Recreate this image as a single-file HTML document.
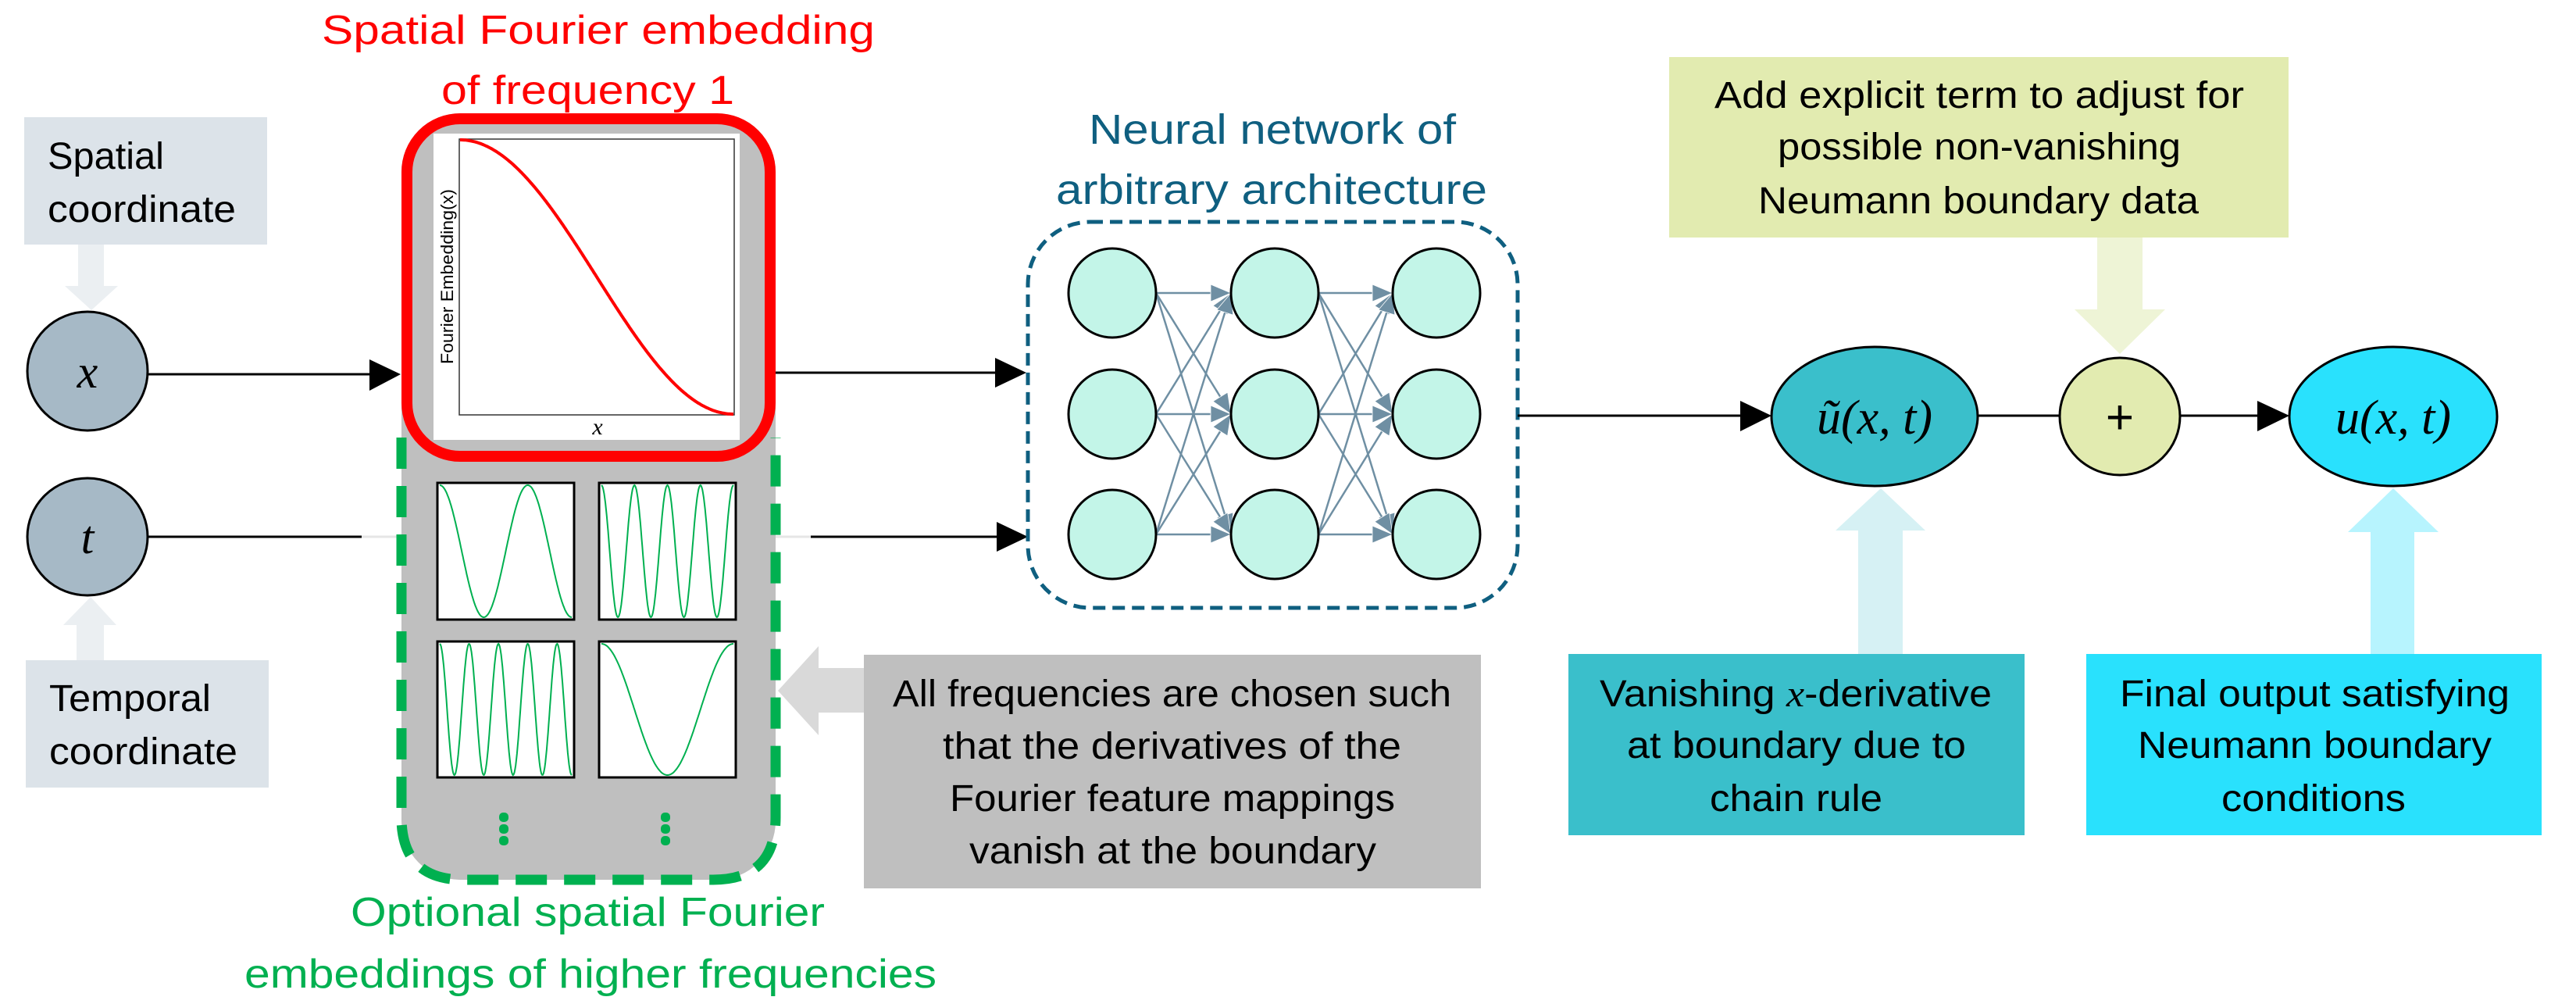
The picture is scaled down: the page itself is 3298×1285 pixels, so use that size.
<!DOCTYPE html>
<html><head><meta charset="utf-8"><style>
html,body{margin:0;padding:0;background:#fff;}
svg{display:block;}
text{font-family:"Liberation Sans",sans-serif;}
.m{font-family:"Liberation Serif",serif;font-style:italic;}
</style></head><body>
<svg id="s" width="3298" height="1285" viewBox="0 0 3298 1285" xmlns="http://www.w3.org/2000/svg">

<!-- Titles -->
<text x="412" y="56" font-size="52" fill="#ff0000" textLength="708" lengthAdjust="spacingAndGlyphs">Spatial Fourier embedding</text>
<text x="565" y="133" font-size="52" fill="#ff0000" textLength="375" lengthAdjust="spacingAndGlyphs">of frequency 1</text>

<!-- Spatial coordinate box -->
<rect x="31" y="150" width="311" height="163" fill="#dce3e9"/>
<text x="61" y="216" font-size="48" fill="#000" textLength="149" lengthAdjust="spacingAndGlyphs">Spatial</text>
<text x="61" y="284" font-size="48" fill="#000" textLength="241" lengthAdjust="spacingAndGlyphs">coordinate</text>
<polygon points="100,313 133,313 133,366 151,366 117,397 83,366 100,366" fill="#ebeff2"/>

<!-- x circle -->
<ellipse cx="112" cy="475" rx="77" ry="76" fill="#a6b9c6" stroke="#000" stroke-width="3"/>
<text x="112" y="496" font-size="60" class="m" text-anchor="middle">x</text>
<line x1="189" y1="479" x2="475" y2="479" stroke="#000" stroke-width="3"/>
<polygon points="473,460 513,479 473,500" fill="#000"/>

<!-- t circle -->
<ellipse cx="112" cy="687" rx="77" ry="75" fill="#a6b9c6" stroke="#000" stroke-width="3"/>
<text x="112" y="708" font-size="60" class="m" text-anchor="middle">t</text>
<line x1="189" y1="687" x2="463" y2="687" stroke="#000" stroke-width="3"/>
<line x1="463" y1="687" x2="514" y2="687" stroke="#e6e6e6" stroke-width="3"/>
<polygon points="98,845 133,845 133,800 149,800 116,764 81,800 98,800" fill="#ebeff2"/>
<rect x="33" y="845" width="311" height="163" fill="#dce3e9"/>
<text x="63" y="910" font-size="48" fill="#000" textLength="207" lengthAdjust="spacingAndGlyphs">Temporal</text>
<text x="63" y="978" font-size="48" fill="#000" textLength="241" lengthAdjust="spacingAndGlyphs">coordinate</text>

<!-- Gray embedding container -->
<rect x="514" y="145" width="479" height="981" rx="75" ry="75" fill="#bfbfbf"/>
<path d="M514,560 L514,1046 Q514,1126 594,1126 L913,1126 Q993,1126 993,1046 L993,560" fill="none" stroke="#00b050" stroke-width="13" stroke-dasharray="40,22"/>
<rect x="521" y="152" width="465" height="432" rx="68" ry="68" fill="none" stroke="#ff0000" stroke-width="14"/>
<rect x="555" y="171" width="392" height="392" fill="#fff"/>
<rect x="588" y="178" width="352" height="353" fill="none" stroke="#333" stroke-width="1.5"/>
<polyline id="mainc" fill="none" stroke="#ff0000" stroke-width="4"/>
<text x="0" y="0" font-size="22" fill="#000" transform="translate(580,354) rotate(-90)" text-anchor="middle" textLength="224" lengthAdjust="spacingAndGlyphs">Fourier Embedding(x)</text>
<text x="765" y="556" font-size="30" class="m" text-anchor="middle">x</text>

<!-- small plots -->
<rect x="560" y="618" width="175" height="175" fill="#fff" stroke="#000" stroke-width="3"/>
<rect x="767" y="618" width="175" height="175" fill="#fff" stroke="#000" stroke-width="3"/>
<rect x="560" y="821" width="175" height="174" fill="#fff" stroke="#000" stroke-width="3"/>
<rect x="767" y="821" width="175" height="174" fill="#fff" stroke="#000" stroke-width="3"/>
<polyline id="p1" fill="none" stroke="#00b050" stroke-width="2"/>
<polyline id="p2" fill="none" stroke="#00b050" stroke-width="2"/>
<polyline id="p3" fill="none" stroke="#00b050" stroke-width="2"/>
<polyline id="p4" fill="none" stroke="#00b050" stroke-width="2"/>
<g fill="#00b050">
<rect x="639" y="1040" width="12" height="12" rx="5"/><rect x="639" y="1055" width="12" height="12" rx="5"/><rect x="639" y="1070" width="12" height="12" rx="5"/>
<rect x="846" y="1040" width="12" height="12" rx="5"/><rect x="846" y="1055" width="12" height="12" rx="5"/><rect x="846" y="1070" width="12" height="12" rx="5"/>
</g>
<text x="449" y="1185" font-size="52" fill="#00b050" textLength="607" lengthAdjust="spacingAndGlyphs">Optional spatial Fourier</text>
<text x="313" y="1264" font-size="52" fill="#00b050" textLength="886" lengthAdjust="spacingAndGlyphs">embeddings of higher frequencies</text>

<!-- gray arrow & text box -->
<polygon points="1106,855 1048,855 1048,827 996,884 1048,941 1048,912 1106,912" fill="#d9d9d9"/>
<rect x="1106" y="838" width="790" height="299" fill="#bfbfbf"/>
<g font-size="48" fill="#000">
<text x="1143" y="904" textLength="715" lengthAdjust="spacingAndGlyphs">All frequencies are chosen such</text>
<text x="1207" y="971" textLength="587" lengthAdjust="spacingAndGlyphs">that the derivatives of the</text>
<text x="1216" y="1038" textLength="570" lengthAdjust="spacingAndGlyphs">Fourier feature mappings</text>
<text x="1241" y="1105" textLength="521" lengthAdjust="spacingAndGlyphs">vanish at the boundary</text>
</g>

<!-- arrows into NN -->
<line x1="993" y1="477" x2="1276" y2="477" stroke="#000" stroke-width="3"/>
<polygon points="1274,458 1314,477 1274,496" fill="#000"/>
<line x1="993" y1="687" x2="1038" y2="687" stroke="#e6e6e6" stroke-width="3"/>
<line x1="1038" y1="687" x2="1278" y2="687" stroke="#000" stroke-width="3"/>
<polygon points="1276,668 1316,687 1276,706" fill="#000"/>

<!-- NN -->
<text x="1394" y="184" font-size="54" fill="#0f5f80" textLength="470" lengthAdjust="spacingAndGlyphs">Neural network of</text>
<text x="1352" y="261" font-size="54" fill="#0f5f80" textLength="552" lengthAdjust="spacingAndGlyphs">arbitrary architecture</text>
<rect x="1316" y="284" width="627" height="494" rx="80" ry="80" fill="none" stroke="#0f5f80" stroke-width="5" stroke-dasharray="16,9"/>
<g id="edges"></g>
<g id="nodes"></g>

<!-- output of NN -->
<line x1="1943" y1="532" x2="2230" y2="532" stroke="#000" stroke-width="3"/>
<polygon points="2228,513 2268,532 2228,552" fill="#000"/>

<!-- green top box -->
<rect x="2137" y="73" width="793" height="231" fill="#e2ebb0"/>
<g font-size="48" fill="#000">
<text x="2195" y="138" textLength="678" lengthAdjust="spacingAndGlyphs">Add explicit term to adjust for</text>
<text x="2276" y="204" textLength="516" lengthAdjust="spacingAndGlyphs">possible non-vanishing</text>
<text x="2251" y="273" textLength="564" lengthAdjust="spacingAndGlyphs">Neumann boundary data</text>
</g>
<polygon points="2685,304 2743,304 2743,396 2772,396 2714,453 2656,396 2685,396" fill="#eef4d6"/>

<!-- output nodes -->
<ellipse cx="2400" cy="533" rx="132" ry="89" fill="#3abfcb" stroke="#000" stroke-width="3"/>
<text x="2400" y="555" font-size="62" class="m" text-anchor="middle">ũ(x, t)</text>
<line x1="2532" y1="532" x2="2637" y2="532" stroke="#000" stroke-width="3"/>
<ellipse cx="2714" cy="533" rx="77" ry="75" fill="#e2ebb0" stroke="#000" stroke-width="3"/>
<text x="2714" y="555" font-size="62" font-family="Liberation Serif,serif" text-anchor="middle">+</text>
<line x1="2791" y1="532" x2="2892" y2="532" stroke="#000" stroke-width="3"/>
<polygon points="2890,513 2931,532 2890,552" fill="#000"/>
<ellipse cx="3064" cy="533" rx="133" ry="89" fill="#29e1fd" stroke="#000" stroke-width="3"/>
<text x="3064" y="555" font-size="62" class="m" text-anchor="middle">u(x, t)</text>

<!-- bottom arrows & boxes -->
<polygon points="2379,837 2436,837 2436,679 2465,679 2408,625 2350,679 2379,679" fill="#d6f1f4"/>
<polygon points="3035,837 3091,837 3091,681 3122,681 3064,625 3006,681 3035,681" fill="#b7f4fe"/>
<rect x="2008" y="837" width="584" height="232" fill="#3abfcb"/>
<g font-size="48" fill="#000">
<text x="2048" y="904" textLength="502" lengthAdjust="spacingAndGlyphs">Vanishing <tspan class="m">x</tspan>-derivative</text>
<text x="2083" y="970" textLength="434" lengthAdjust="spacingAndGlyphs">at boundary due to</text>
<text x="2189" y="1038" textLength="221" lengthAdjust="spacingAndGlyphs">chain rule</text>
</g>
<rect x="2671" y="837" width="583" height="232" fill="#29e1fd"/>
<g font-size="48" fill="#000">
<text x="2714" y="904" textLength="499" lengthAdjust="spacingAndGlyphs">Final output satisfying</text>
<text x="2737" y="970" textLength="453" lengthAdjust="spacingAndGlyphs">Neumann boundary</text>
<text x="2844" y="1038" textLength="236" lengthAdjust="spacingAndGlyphs">conditions</text>
</g>
</svg>
<script>
function curve(id,x0,y0,w,h,f){var p=[];for(var i=0;i<=200;i++){var t=i/200;var v=(1+Math.cos(f*Math.PI*t))/2;p.push((x0+t*w).toFixed(1)+","+(y0+(1-v)*h).toFixed(1));}document.getElementById(id).setAttribute("points",p.join(" "));}
curve("mainc",589,179,350,351,1);
curve("p1",563,621,169,169,3);
curve("p2",770,621,169,169,8);
curve("p3",563,824,169,168,9);
curve("p4",770,824,169,168,2);
var NS="http://www.w3.org/2000/svg";
var cx=[1424,1632,1839],cy=[375,530,684],rx=56,ry=57;
var E=document.getElementById("edges"),N=document.getElementById("nodes");
for(var c=0;c<2;c++)for(var a=0;a<3;a++)for(var b=0;b<3;b++){
 var x1=cx[c]+rx,y1=cy[a],x2=cx[c+1]-rx,y2=cy[b];
 var dx=x2-x1,dy=y2-y1,L=Math.sqrt(dx*dx+dy*dy),ux=dx/L,uy=dy/L;
 var hl=26,hw=11,bx=x2-ux*hl,by=y2-uy*hl;
 var l=document.createElementNS(NS,"line");
 l.setAttribute("x1",x1);l.setAttribute("y1",y1);l.setAttribute("x2",bx);l.setAttribute("y2",by);
 l.setAttribute("stroke","#6f8fa3");l.setAttribute("stroke-width","2.5");E.appendChild(l);
 var pg=document.createElementNS(NS,"polygon");
 pg.setAttribute("points",x2+","+y2+" "+(bx-uy*hw)+","+(by+ux*hw)+" "+(bx+uy*hw)+","+(by-ux*hw));
 pg.setAttribute("fill","#6f8fa3");pg.setAttribute("stroke","#fff");pg.setAttribute("stroke-width","0.8");E.appendChild(pg);
}
for(var c=0;c<3;c++)for(var a=0;a<3;a++){var e=document.createElementNS(NS,"ellipse");
 e.setAttribute("cx",cx[c]);e.setAttribute("cy",cy[a]);e.setAttribute("rx",rx);e.setAttribute("ry",ry);
 e.setAttribute("fill","#c3f5e8");e.setAttribute("stroke","#000");e.setAttribute("stroke-width","3");N.appendChild(e);}
</script>
</body></html>
